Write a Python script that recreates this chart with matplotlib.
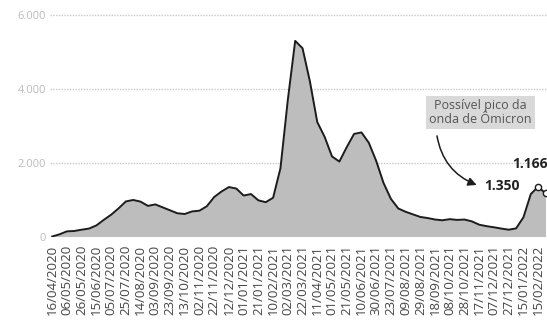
import matplotlib.pyplot as plt
import numpy as np

# Tick labels along the x axis (one every position)
date_labels = [
    "16/04/2020", "06/05/2020", "26/05/2020", "15/06/2020", "05/07/2020",
    "25/07/2020", "14/08/2020", "03/09/2020", "23/09/2020", "13/10/2020",
    "02/11/2020", "22/11/2020", "12/12/2020", "01/01/2021", "21/01/2021",
    "10/02/2021", "02/03/2021", "22/03/2021", "11/04/2021", "01/05/2021",
    "21/05/2021", "10/06/2021", "30/06/2021", "23/07/2021", "09/08/2021",
    "29/08/2021", "18/09/2021", "08/10/2021", "28/10/2021", "17/11/2021",
    "07/12/2021", "27/12/2021", "15/01/2022", "15/02/2022",
]

# Moving average of deaths, sampled every half label step
deaths = [
    0, 60, 140, 150, 185, 215, 300, 450, 590, 760,
    950, 990, 945, 830, 870, 790, 710, 630, 610, 680,
    700, 820, 1070, 1220, 1340, 1300, 1110, 1150, 980, 930,
    1050, 1850, 3700, 5300, 5100, 4200, 3100, 2700, 2170, 2030,
    2420, 2780, 2820, 2540, 2050, 1450, 1020, 760, 670, 600,
    530, 500, 460, 440, 470, 450, 460, 410, 320, 280,
    250, 215, 185, 220, 520, 1150, 1350, 1166,
]

y_ticks = [0, 2000, 4000, 6000]
y_tick_labels = ["0", "2.000", "4.000", "6.000"]

peak_value = 1350
last_value = 1166

plt.rcParams['font.family'] = ['Open Sans', 'DejaVu Sans']

x = np.arange(len(deaths)) * 0.5

fig = plt.figure(figsize=(5.47, 3.24), dpi=100)
ax = fig.add_axes([0.0914, 0.270, 0.9086, 0.695])

ax.fill_between(x, deaths, 0, color='#bdbdbd', linewidth=0, zorder=2)
ax.plot(x, deaths, color='#1c1c1c', linewidth=1.4, solid_joinstyle='round', zorder=3)

# open circles on the recent peak and the latest value
i_peak = deaths.index(peak_value)
ax.plot([x[i_peak], x[-1]], [deaths[i_peak], deaths[-1]], 'o', ms=4.5,
        mfc='white', mec='#1c1c1c', mew=1.0, zorder=4, clip_on=False)

ax.set_xlim(-0.15, 33.6)
ax.set_ylim(0, 6100)

ax.set_yticks(y_ticks)
ax.set_yticklabels(y_tick_labels, fontsize=8, color='#bbbbbb')
ax.set_xticks(np.arange(len(date_labels)))
ax.set_xticklabels(date_labels, rotation=90, fontsize=9.5, color='#444444')
ax.tick_params(axis='both', length=0)
ax.tick_params(axis='x', pad=6)
ax.tick_params(axis='y', pad=3)

ax.yaxis.grid(True, color='#c8c8c8', linestyle=(0, (1, 1)), linewidth=1.0, zorder=1)
for s in ax.spines.values():
    s.set_visible(False)

# callout box and curved arrow
ax.text(29.1, 3350, "Possível pico da\nonda de Ômicron", fontsize=9, color='#555555',
        ha='center', va='center', linespacing=1.1, zorder=5,
        bbox=dict(boxstyle='square,pad=0.25', facecolor='#d9d9d9', edgecolor='none'))
ax.annotate("", xy=(29.0, 1370), xytext=(26.1, 2800),
            arrowprops=dict(arrowstyle='-|>,head_length=0.5,head_width=0.25', color='#1c1c1c',
                            lw=1.1, connectionstyle='arc3,rad=0.3'), zorder=5)

ax.text(29.35, 1370, f"{peak_value:,}".replace(',', '.'), fontsize=10, fontweight='bold',
        color='#222222', ha='left', va='center', zorder=5)
ax.text(33.65, 1960, f"{last_value:,}".replace(',', '.'), fontsize=10, fontweight='bold',
        color='#222222', ha='right', va='center', zorder=5, clip_on=False)

fig.savefig("out.png", dpi=100)
